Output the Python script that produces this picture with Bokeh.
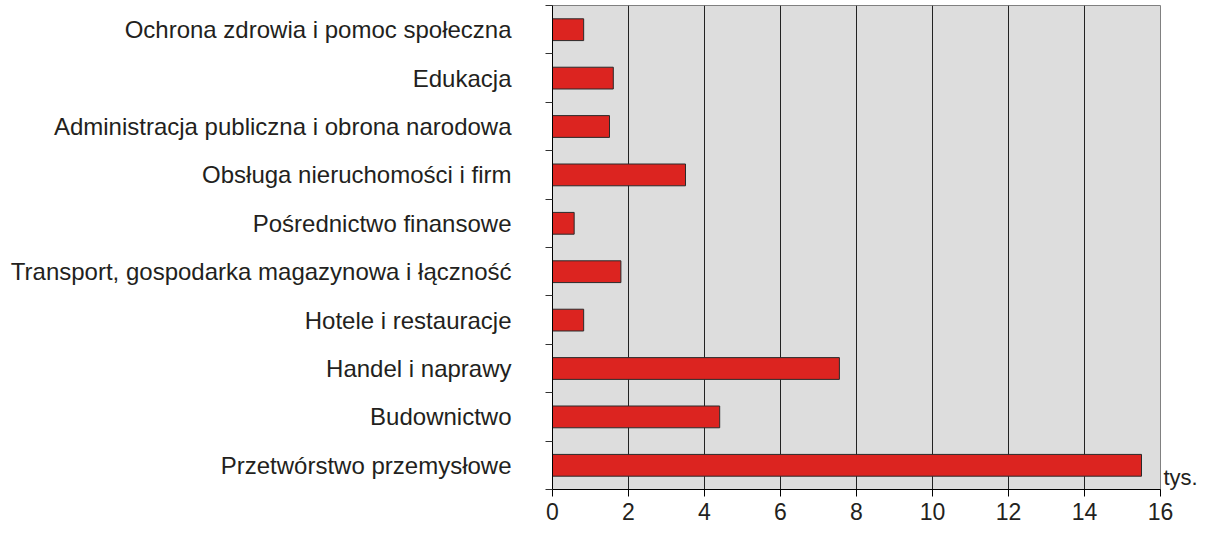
from bokeh.plotting import figure
from bokeh.models import Range1d, FixedTicker, LinearAxis, ColumnDataSource
from bokeh.embed import file_html
from bokeh.resources import INLINE

# Data (bottom to top)
categories = [
    "Przetwórstwo przemysłowe",
    "Budownictwo",
    "Handel i naprawy",
    "Hotele i restauracje",
    "Transport, gospodarka magazynowa i łączność",
    "Pośrednictwo finansowe",
    "Obsługa nieruchomości i firm",
    "Administracja publiczna i obrona narodowa",
    "Edukacja",
    "Ochrona zdrowia i pomoc społeczna",
]
values = [15.5, 4.4, 7.55, 0.82, 1.8, 0.57, 3.5, 1.5, 1.6, 0.82]
x_ticks = [0, 2, 4, 6, 8, 10, 12, 14, 16]
unit_label = "tys."

n = len(categories)
positions = [i + 0.5 for i in range(n)]
boundaries = list(range(n + 1))

FONT = "Liberation Sans"
TXT = "#231f20"

p = figure(
    width=1200, height=527,
    x_range=Range1d(0, 16), y_range=Range1d(0, n),
    output_backend="svg", toolbar_location=None,
    min_border_left=552, min_border_right=36,
    min_border_top=5, min_border_bottom=38,
)
p.background_fill_color = "#dddddd"
p.border_fill_color = "white"
p.outline_line_color = "#808080"
p.outline_line_width = 1

src = ColumnDataSource(dict(y=positions, right=values))
p.hbar(y="y", right="right", left=0, height=0.45, source=src,
       fill_color="#dc2420", line_color="#2a2a2a", line_width=1)

# x axis
p.xaxis.ticker = FixedTicker(ticks=x_ticks)
p.xaxis.axis_line_color = "black"
p.xaxis.major_tick_line_color = "black"
p.xaxis.major_tick_out = 7
p.xaxis.major_tick_in = 0
p.xaxis.minor_tick_line_color = None
p.xaxis.major_label_text_font = FONT
p.xaxis.major_label_text_font_size = "23px"
p.xaxis.major_label_text_color = TXT
p.xaxis.major_label_standoff = 6

# y axis
p.yaxis.ticker = FixedTicker(ticks=positions, minor_ticks=boundaries)
p.yaxis.major_label_overrides = {pos: lab for pos, lab in zip(positions, categories)}
p.yaxis.axis_line_color = "black"
p.yaxis.major_tick_line_color = None
p.yaxis.major_tick_out = 0
p.yaxis.major_tick_in = 0
p.yaxis.minor_tick_line_color = "#333333"
p.yaxis.minor_tick_out = 7
p.yaxis.minor_tick_in = 0
p.yaxis.major_label_text_font = FONT
p.yaxis.major_label_text_font_size = "24px"
p.yaxis.major_label_text_color = TXT
p.yaxis.major_label_standoff = 34

# grid
p.xgrid.ticker = FixedTicker(ticks=x_ticks)
p.xgrid.grid_line_color = "#222222"
p.xgrid.grid_line_width = 1
p.ygrid.grid_line_color = None

# unit label as a right-side axis label just above the x axis
unit_pos = 0.25
unit_axis = LinearAxis(ticker=FixedTicker(ticks=[unit_pos]),
                       major_label_overrides={unit_pos: unit_label})
unit_axis.axis_line_color = None
unit_axis.major_tick_line_color = None
unit_axis.minor_tick_line_color = None
unit_axis.major_tick_out = 0
unit_axis.major_tick_in = 0
unit_axis.major_label_standoff = 3
unit_axis.axis_label_standoff = 0
unit_axis.major_label_text_font = FONT
unit_axis.major_label_text_font_size = "22px"
unit_axis.major_label_text_color = TXT
p.add_layout(unit_axis, "right")

open("out.html", "w").write(file_html(p, INLINE))
